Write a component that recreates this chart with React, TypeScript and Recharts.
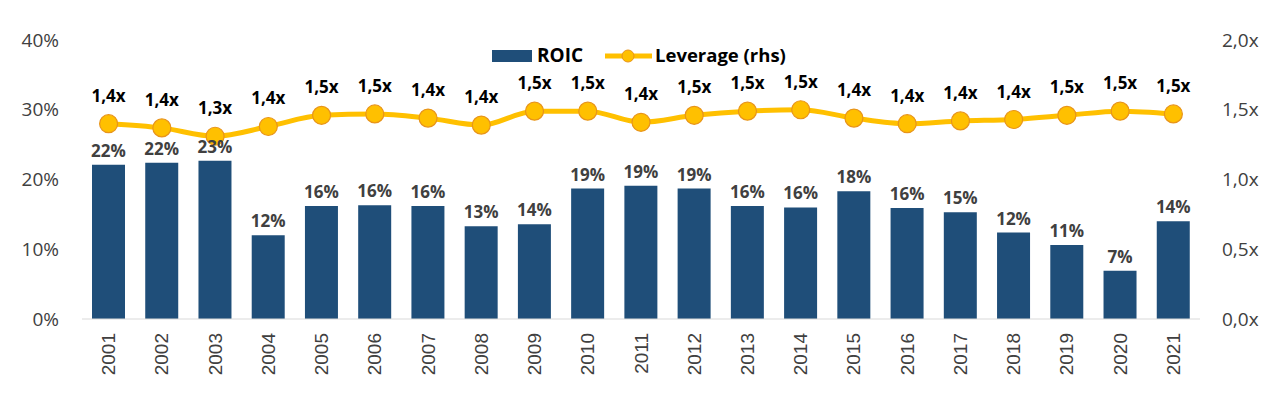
import React from 'react';
import { ComposedChart, Bar, Line, XAxis, YAxis, LabelList } from 'recharts';

const years = ['2001', '2002', '2003', '2004', '2005', '2006', '2007', '2008', '2009', '2010', '2011',
  '2012', '2013', '2014', '2015', '2016', '2017', '2018', '2019', '2020', '2021'];
const roic = [22.1, 22.4, 22.7, 12.0, 16.2, 16.3, 16.2, 13.3, 13.6, 18.7, 19.1,
  18.7, 16.2, 16.0, 18.3, 15.9, 15.3, 12.4, 10.6, 6.9, 14.0];
const leverage = [1.40, 1.37, 1.31, 1.38, 1.46, 1.47, 1.44, 1.39, 1.49, 1.49, 1.41,
  1.46, 1.49, 1.50, 1.44, 1.40, 1.42, 1.43, 1.46, 1.49, 1.47];
const leftTicks = [0, 10, 20, 30, 40];
const rightTicks = [0, 0.5, 1, 1.5, 2];

const data = years.map((y, i) => ({ year: y, roic: roic[i], leverage: leverage[i] }));

const FONT = '"Open Sans", "Noto Sans", sans-serif';
const NAVY = '#1F4E79';
const GOLD = '#FFC000';

const YearTick = (props: any) => {
  const { x, y, payload } = props;
  const ty = y + 6;
  return (
    <text x={x} y={ty} transform={`rotate(-90 ${x} ${ty})`} textAnchor="end" dominantBaseline="central"
      fontFamily='"Liberation Sans", Arial, sans-serif' fontSize={19} fill="#404040">
      {payload.value}
    </text>
  );
};

// legend drawn as an overlay so it takes no space from the plot
const LegendOverlay = () => (
  <svg width={1280} height={40} style={{ position: 'absolute', left: 0, top: 36 }}>
    <rect x={492} y={14} width={40} height={12} fill={NAVY} />
    <text x={537} y={26} fontFamily={FONT} fontWeight={700} fontSize={19} fill="#000">ROIC</text>
    <line x1={605} y1={20} x2={652} y2={20} stroke={GOLD} strokeWidth={5} />
    <circle cx={628} cy={20} r={6} fill={GOLD} stroke="#E8941A" strokeWidth={1} />
    <text x={655} y={26} fontFamily={FONT} fontWeight={700} fontSize={18.5} fill="#000">Leverage (rhs)</text>
  </svg>
);

export default function App() {
  return (
    <div style={{ position: 'absolute', left: 0, top: 0, width: 1280, height: 399, background: '#fff' }}>
      <ComposedChart width={1280} height={399} data={data} barSize={33}
        margin={{ top: 40, right: 0, bottom: 0, left: 2 }}>
        <XAxis dataKey="year" height={80} tick={<YearTick />} tickLine={false}
          axisLine={{ stroke: '#D9D9D9' }} interval={0} />
        <YAxis yAxisId="l" domain={[0, 40]} ticks={leftTicks} width={80} axisLine={false} tickLine={false}
          tickSize={0} tickMargin={23} tickFormatter={(v: number) => `${v}%`}
          tick={{ fontFamily: FONT, fontSize: 19, fill: '#404040' }} />
        <YAxis yAxisId="r" orientation="right" domain={[0, 2]} ticks={rightTicks} width={80} axisLine={false}
          tickLine={false} tickSize={0} tickMargin={22} tickFormatter={(v: number) => `${v.toFixed(1).replace('.', ',')}x`}
          tick={{ fontFamily: FONT, fontSize: 19, fill: '#404040', textAnchor: 'start' }} />
        <Bar yAxisId="l" dataKey="roic" fill={NAVY} isAnimationActive={false}>
          <LabelList dataKey="roic" position="top" offset={8}
            formatter={(v: any) => `${Math.round(Number(v))}%`}
            style={{ fontFamily: FONT, fontSize: 17, fontWeight: 700, fill: '#404040' }} />
        </Bar>
        <Line yAxisId="r" dataKey="leverage" stroke={GOLD} strokeWidth={5} isAnimationActive={false}
          type="monotone"
          dot={{ r: 9, fill: GOLD, stroke: '#E8941A', strokeWidth: 1.2 }}>
          <LabelList dataKey="leverage" position="top" offset={22}
            formatter={(v: any) => `${Number(v).toFixed(1).replace('.', ',')}x`}
            style={{ fontFamily: FONT, fontSize: 17, fontWeight: 700, fill: '#000' }} />
        </Line>
      </ComposedChart>
      <LegendOverlay />
    </div>
  );
}
